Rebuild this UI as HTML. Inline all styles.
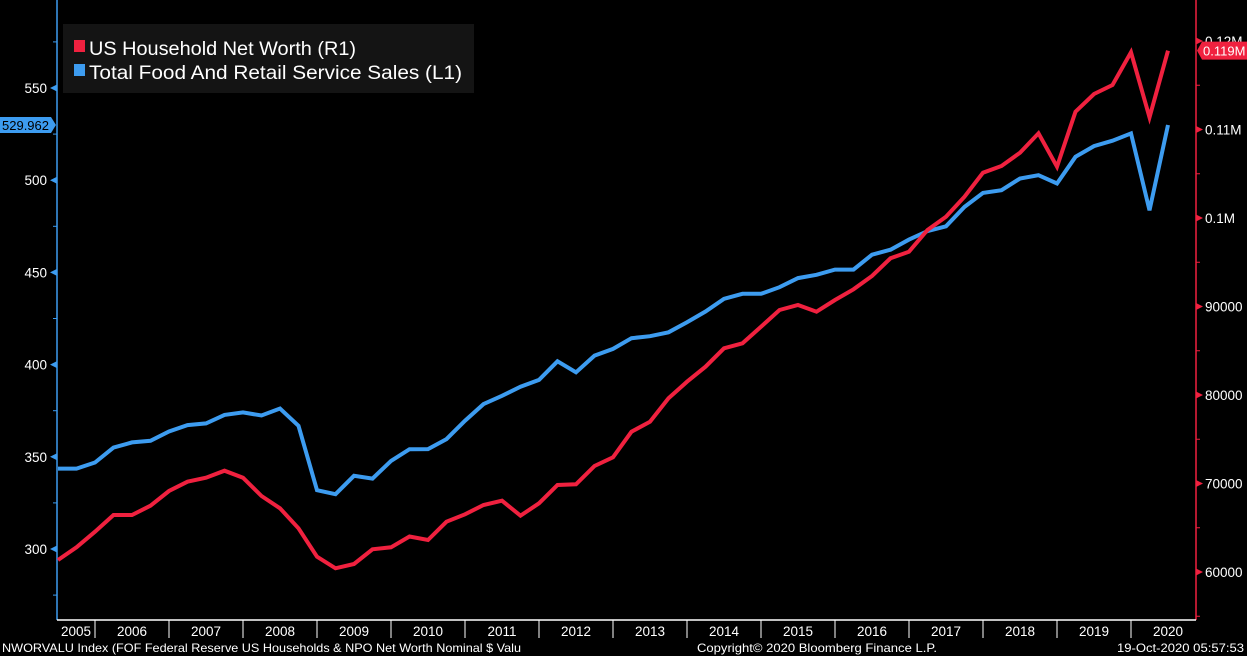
<!DOCTYPE html>
<html><head><meta charset="utf-8"><style>
html,body{margin:0;padding:0;background:#000;width:1247px;height:656px;overflow:hidden}
svg{display:block;font-family:"Liberation Sans",sans-serif}
</style></head><body>
<svg id="chart" width="1247" height="656" xmlns="http://www.w3.org/2000/svg">
<rect x="0" y="0" width="1247" height="656" fill="#000"/>
<g id="axes"></g>
<g id="series"></g>
<g>
<rect x="63" y="24" width="411" height="69" fill="#141414"/>
<rect x="74" y="40" width="11" height="12" fill="#f0213f"/>
<text x="89" y="55" fill="#fff" font-size="19" textLength="267" lengthAdjust="spacingAndGlyphs">US Household Net Worth (R1)</text>
<rect x="74" y="64" width="11" height="12" fill="#3d9cf0"/>
<text x="89" y="79" fill="#fff" font-size="19" textLength="373" lengthAdjust="spacingAndGlyphs">Total Food And Retail Service Sales (L1)</text>
</g>
<text x="2" y="652" fill="#fff" font-size="12" textLength="519" lengthAdjust="spacingAndGlyphs">NWORVALU Index (FOF Federal Reserve US Households &amp; NPO Net Worth Nominal $ Valu</text>
<text x="697" y="652" fill="#fff" font-size="12" textLength="240" lengthAdjust="spacingAndGlyphs">Copyright© 2020 Bloomberg Finance L.P.</text>
<text x="1117" y="652" fill="#fff" font-size="12" textLength="127" lengthAdjust="spacingAndGlyphs">19-Oct-2020 05:57:53</text>
</svg>
<script>
const startYear = 2005.5;
const retailSales = [343.6,343.6,346.9,355.0,357.8,358.7,363.7,367.2,368.1,372.7,374.1,372.4,376.2,366.8,331.9,329.7,339.7,338.2,347.8,354.1,354.2,359.6,369.6,378.6,383.1,388.0,391.7,401.8,395.8,404.9,408.5,414.3,415.4,417.5,423.0,428.8,435.7,438.4,438.4,442.0,446.9,448.7,451.5,451.5,459.6,462.3,467.8,472.4,475.0,485.5,493.1,494.6,500.9,502.7,498.2,512.7,518.5,521.4,525.4,483.7,529.962];
const netWorth = [61356,62791,64554,66441,66441,67492,69153,70204,70656,71447,70656,68588,67198,64938,61729,60418,60904,62565,62791,64012,63616,65684,66520,67571,68057,66362,67763,69831,69910,71978,72961,75854,76984,79628,81504,83199,85278,85843,87719,89606,90171,89414,90736,91945,93448,95448,96194,98646,100149,102409,105121,105878,107381,109573,105800,112014,114014,115031,118726,111380,118909];
const leftTicks = [300,350,400,450,500,550];
const rightTicks = [60000,70000,80000,90000,100000,110000,120000];
const rightTickLabels = ["60000","70000","80000","90000","0.1M","0.11M","0.12M"];
const years = [2005,2006,2007,2008,2009,2010,2011,2012,2013,2014,2015,2016,2017,2018,2019,2020];

const NS="http://www.w3.org/2000/svg";
const xOf = t => 95 + (t-2006)*74;
const yL = v => 88 + (550-v)*(92.2/50);
const yR = v => 572 - (v-60000)*(88.5/10000);
function mk(tag, attrs, parent, txt){const e=document.createElementNS(NS,tag);for(const k in attrs)e.setAttribute(k,attrs[k]);if(txt!==undefined)e.textContent=txt;parent.appendChild(e);return e;}
const axes=document.getElementById('axes'), ser=document.getElementById('series');
const BLUE="#3d9cf0", RED="#f0213f";

let e;
e=mk('line',{x1:57,y1:0,x2:57,y2:620,stroke:BLUE,'stroke-width':1.5},axes);


e=mk('line',{x1:1196,y1:0,x2:1196,y2:620,stroke:RED,'stroke-width':1.5},axes);


e=mk('line',{x1:57,y1:620,x2:1196,y2:620,stroke:"#fff",'stroke-width':1.5},axes);



for(let v=275; v<=575; v+=25){const y=yL(v); if(y<0||y>620)continue;
 if(v%50===0){
  e=mk('path',{d:`M50 ${y}L57 ${y-3.5}L57 ${y+3.5}Z`,fill:BLUE},axes);
  
  
 } else {
  e=mk('line',{x1:53,y1:y,x2:57,y2:y,stroke:BLUE},axes);
  
  
 }}
leftTicks.forEach(v=>{const y=yL(v);
 e=mk('text',{x:47,y:y+5,fill:"#fff",'font-size':13.5,'text-anchor':'end'},axes,String(v));
 
 });
for(let v=55000; v<=125000; v+=5000){const y=yR(v); if(y<0||y>620)continue;
 if(v%10000===0){
  e=mk('path',{d:`M1196 ${y-3.5}L1203 ${y}L1196 ${y+3.5}Z`,fill:RED},axes);
  
  
 } else {
  e=mk('line',{x1:1196,y1:y,x2:1200,y2:y,stroke:RED},axes);
  
  
 }}
rightTicks.forEach((v,i)=>{const y=yR(v);
 e=mk('text',{x:1205,y:y+5,fill:"#fff",'font-size':13.5},axes,rightTickLabels[i]);
 
 });
years.forEach(yr=>{
 const x0=Math.max(57,xOf(yr)), x1=Math.min(1196,xOf(yr+1));
 if(yr>2005){e=mk('line',{x1:xOf(yr),y1:620,x2:xOf(yr),y2:638,stroke:"#fff"},axes);
  
  }
 e=mk('text',{x:(yr===2020?xOf(yr)+37:(x0+x1)/2),y:636,fill:"#fff",'font-size':13.5,'text-anchor':'middle'},axes,String(yr));
 
 });

const ptsB=retailSales.map((v,i)=>`${xOf(startYear+i/4).toFixed(1)},${yL(v).toFixed(1)}`).join(' ');
e=mk('polyline',{points:ptsB,fill:'none',stroke:BLUE,'stroke-width':4,'stroke-linejoin':'miter'},ser);


const ptsR=netWorth.map((v,i)=>`${xOf(startYear+i/4).toFixed(1)},${yR(v).toFixed(1)}`).join(' ');
e=mk('polyline',{points:ptsR,fill:'none',stroke:RED,'stroke-width':4,'stroke-linejoin':'miter'},ser);



const lb=retailSales[retailSales.length-1], yb=yL(lb);
e=mk('path',{d:`M0 ${yb-8}H51L56 ${yb}L51 ${yb+8}H0Z`,fill:BLUE},axes);


e=mk('text',{x:2,y:yb+5,fill:"#000",'font-size':13},axes,lb.toFixed(3));


const lr=netWorth[netWorth.length-1], yr2=yR(lr);
e=mk('path',{d:`M1197 ${yr2}L1202 ${yr2-9}H1247V${yr2+9}H1202Z`,fill:RED},axes);


e=mk('text',{x:1203,y:yr2+5,fill:"#fff",'font-size':13},axes,(lr/1e6).toFixed(3)+"M");


</script>
</body></html>
